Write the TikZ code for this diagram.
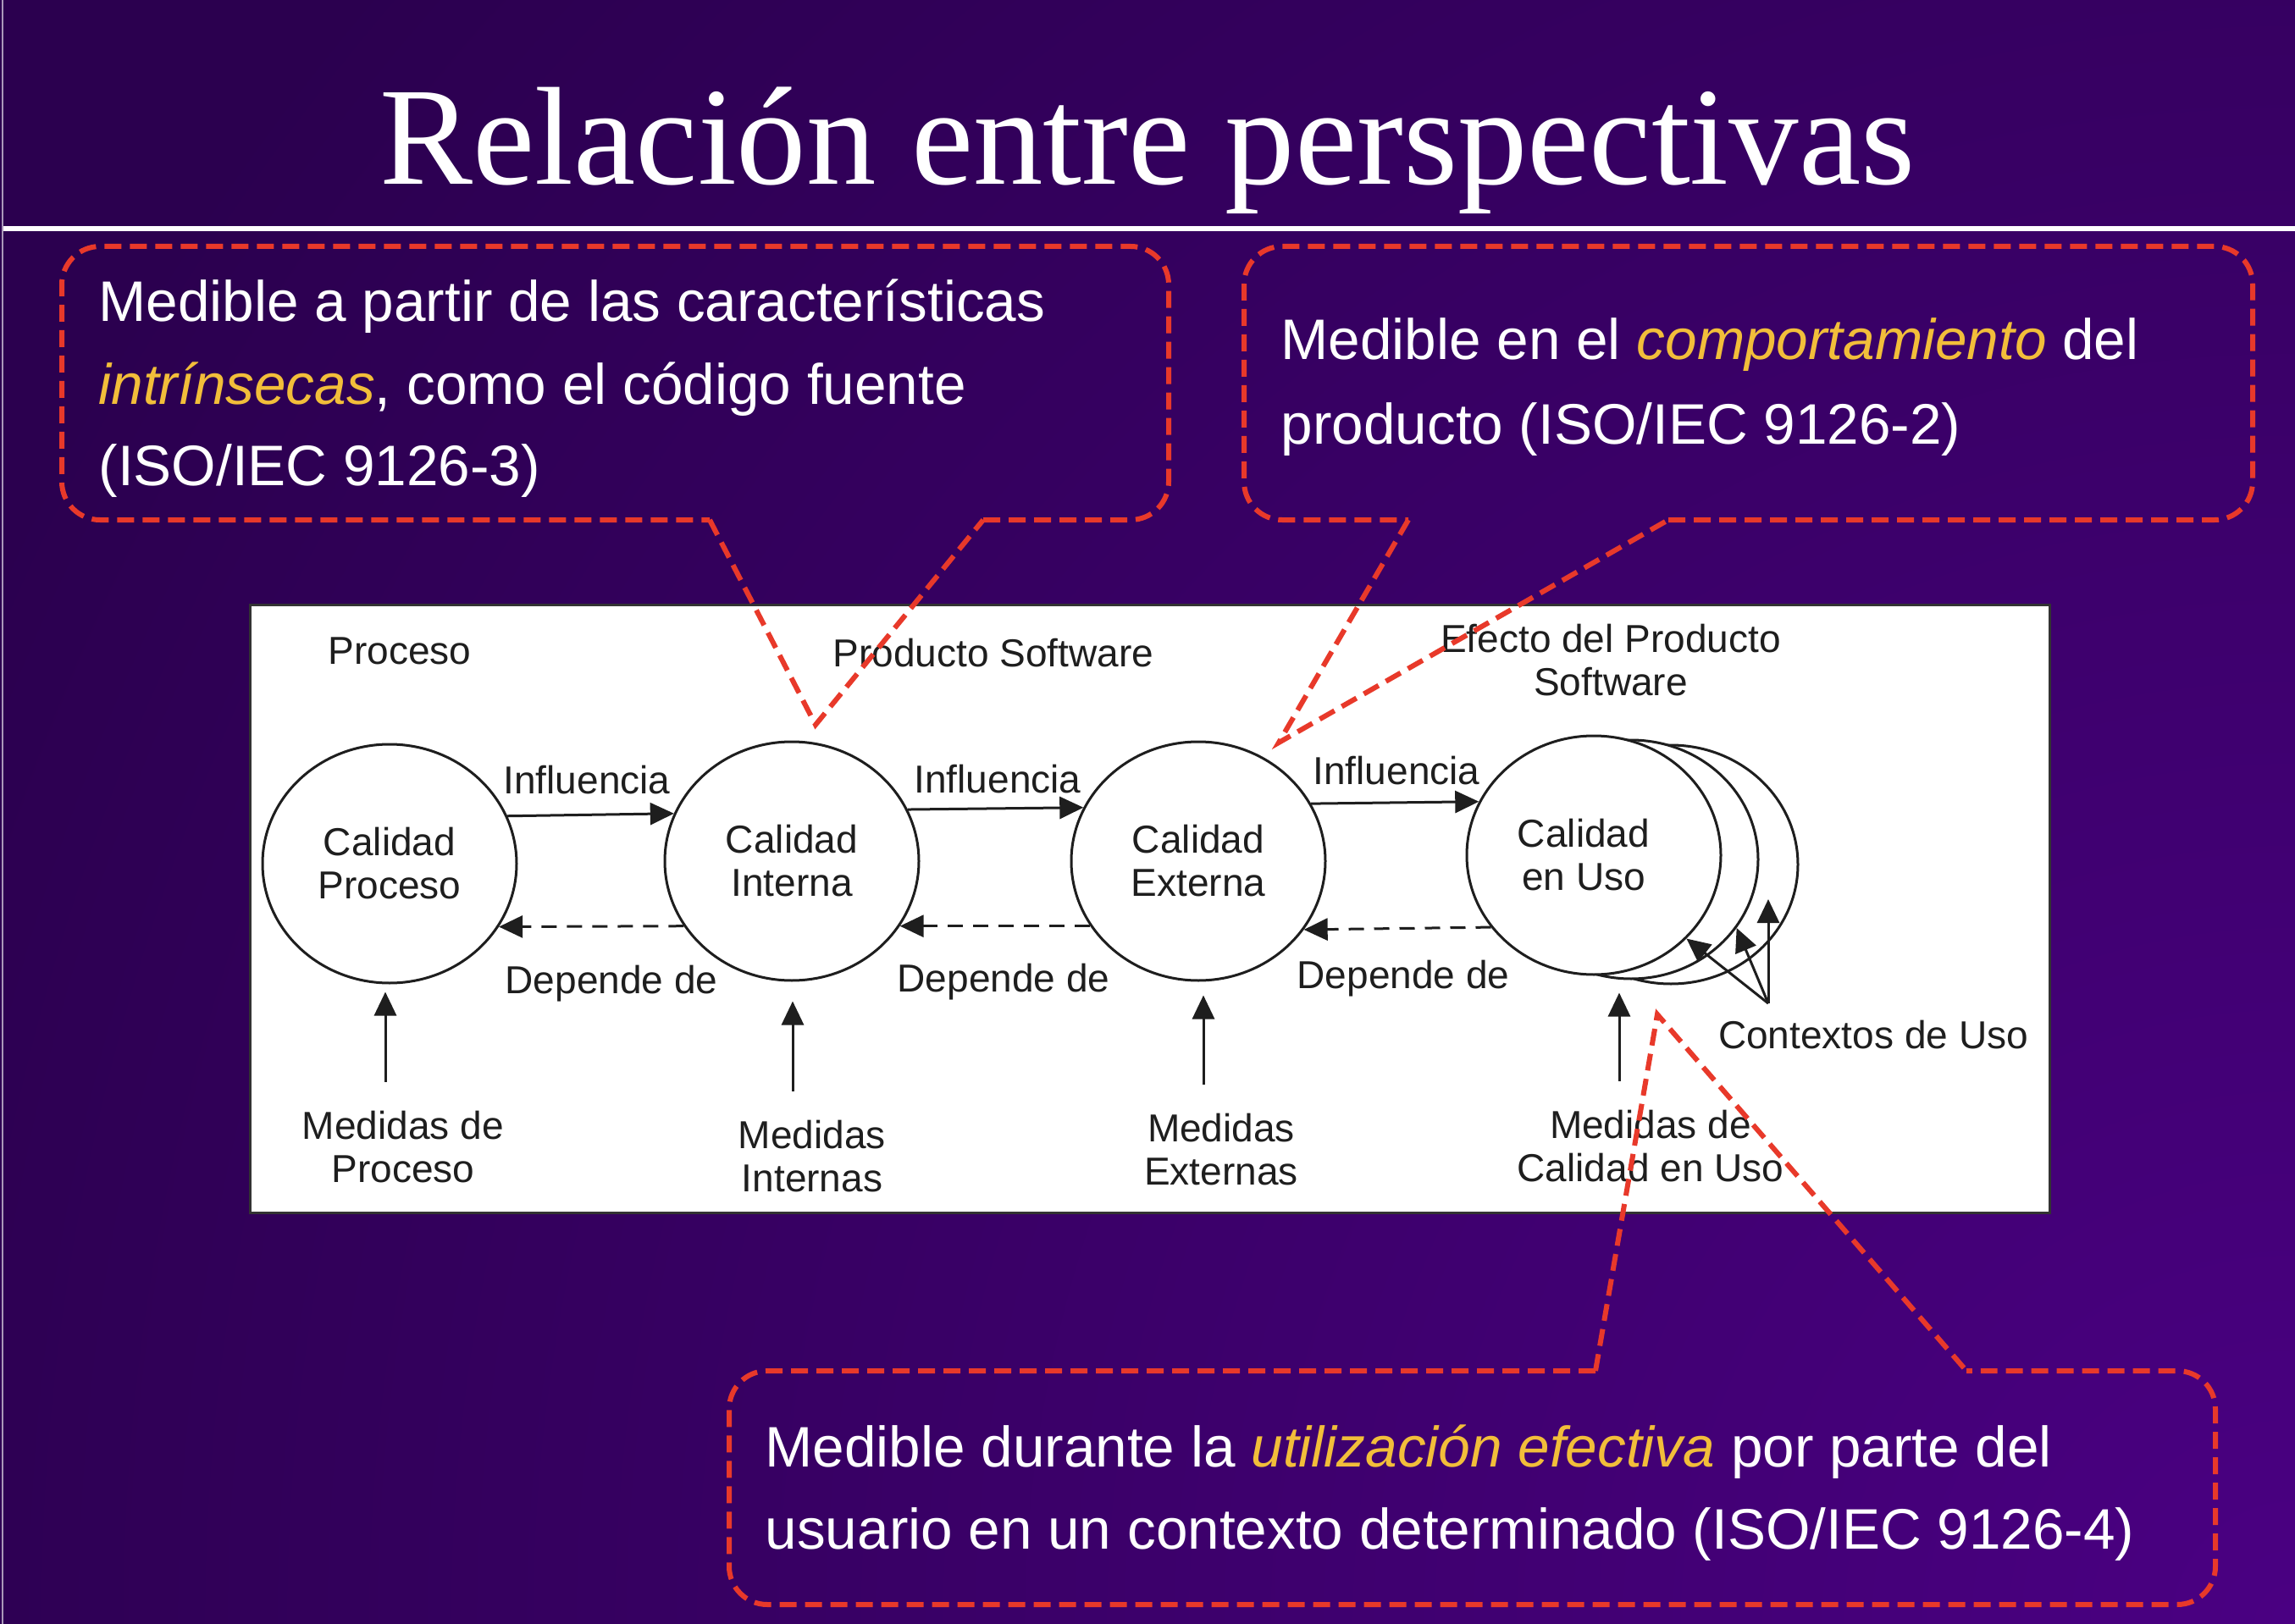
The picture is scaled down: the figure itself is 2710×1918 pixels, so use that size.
\documentclass[tikz,border=0pt]{standalone}
\usepackage{fontspec}
\setmainfont{Liberation Serif}
\newfontfamily\arialfont{Liberation Sans}
\usetikzlibrary{positioning,arrows.meta,shapes.geometric,calc}
\definecolor{BgDark}{HTML}{2B004F}
\definecolor{BgLight}{HTML}{4A0082}
\definecolor{CalloutRed}{HTML}{E8392A}
\definecolor{HiYellow}{HTML}{F2BE3A}
\definecolor{DiagInk}{HTML}{1E1E1E}
\newcommand\titlefont{\fontsize{46.9}{52}\selectfont}
\newcommand\calloutfont{\arialfont\fontsize{19.2}{27.6}\selectfont}
\newcommand\diagfont{\arialfont\fontsize{13.1}{14.5}\selectfont}
\newcommand\hili[1]{\textcolor{HiYellow}{\itshape #1}}

\begin{document}
\begin{tikzpicture}[x=0.1mm,y=-0.1mm,
      qual/.style={ellipse,draw=DiagInk,line width=0.3mm,fill=white,
                   minimum width=30mm,minimum height=28.2mm,inner sep=0pt,
                   align=center,font=\diagfont,text=DiagInk},
      lbl/.style={font=\diagfont,text=DiagInk,align=center,inner sep=0pt},
      infl/.style={-{Triangle[length=2.8mm,width=2.6mm]},DiagInk,line width=0.3mm},
      dep/.style={infl,dash pattern=on 1.8mm off 1.2mm},
      callout/.style={draw=CalloutRed,line width=0.6mm,dash pattern=on 2mm off 1mm},
      ctext/.style={anchor=base west,text=white,font=\calloutfont,inner sep=0pt}]
    \useasboundingbox (0,0) rectangle (2710,1918);
    \fill[BgDark] (0,0) rectangle (2710,1918);
    \begin{scope}
      \clip (0,0) rectangle (2710,1918);
      \shade[inner color=BgLight,outer color=BgDark] (2710,1918) circle (300mm);
    \end{scope}
    \draw[white!60!BgDark,line width=0.2mm] (3,0) -- (3,1918);
    \draw[white,line width=0.6mm] (4,270) -- (2710,270);

    \node[anchor=base,text=white,font=\titlefont] (title) at (1355,218) {Relación entre perspectivas};

    \draw[draw=black!80,fill=white,line width=0.3mm] (295,714) rectangle (2420,1432);

    \node[qual] (proc) at (460,1020) {Calidad\\Proceso};
    \node[qual] (int)  at (935,1017) {Calidad\\Interna};
    \node[qual] (ext)  at (1415,1017) {Calidad\\Externa};
    \node[qual] (uso3) at (1973,1021) {};
    \node[qual] (uso2) at (1926,1015) {};
    \node[qual] (uso)  at (1882,1010) {Calidad\hspace*{2.4mm}\\en Uso\hspace*{2.4mm}};

    \node[lbl] (lproc) at (472,769) {Proceso};
    \node[lbl] (lprod) at (1173,771) {Producto Software};
    \node[lbl] (lefec) at (1902,780) {Efecto del Producto\\Software};
    \node[lbl] (i1) at (693,921) {Influencia};
    \node[lbl] (i2) at (1178,920) {Influencia};
    \node[lbl] (i3) at (1649,910) {Influencia};
    \node[lbl] (d1) at (722,1162) {Depende de};
    \node[lbl] (d2) at (1185,1160) {Depende de};
    \node[lbl] (d3) at (1657,1156) {Depende de};
    \node[lbl] (m1) at (476,1355) {Medidas de\\Proceso};
    \node[lbl] (m2) at (959,1366) {Medidas\\Internas};
    \node[lbl] (m3) at (1442,1358) {Medidas\\Externas};
    \node[lbl] (m4) at (1949,1354) {Medidas de\\Calidad en Uso};
    \node[lbl] (lctx) at (2212,1222) {Contextos de Uso};

    \draw[infl] (proc.22.6) -- (int.158.7);
    \draw[infl] (int.24.3) -- (ext.155.7);
    \draw[infl] (ext.27.8) -- (uso.155.3);
    \draw[dep] (int.211) -- (proc.330.4);
    \draw[dep] (ext.211) -- (int.329);
    \draw[dep] (uso.215.9) -- (ext.327.5);

    \draw[infl] ($(m1.north)+(-21,-34)$) -- ($(proc.south)+(-5,9)$);
    \draw[infl] ($(m2.north)+(-23,-34)$) -- ($(int.south)+(1,23)$);
    \draw[infl] ($(m3.north)+(-21,-34)$) -- ($(ext.south)+(6,16)$);
    \draw[infl] ($(m4.north)+(-37,-34)$) -- ($(uso.south)+(30,20)$);

    \coordinate (ctx) at (2088,1185);
    \coordinate (ctxtip) at (2088,1062);
    \draw[infl] (ctx) -- (uso.-42.2);
    \draw[infl] (ctx) -- (uso2.-33.7);
    \draw[infl] (ctx) -- (ctxtip);

    \draw[callout,rounded corners=4.5mm] (1161,614) -- (1380,614) -- (1380,291) -- (73,291) -- (73,614) -- (838,614);
    \draw[callout] (838,614) -- (963,856) -- (1161,614);
    \node[ctext] (t1a) at (116,380) {Medible a partir de las características};
    \node[ctext] (t1b) at (116,477) {\hili{intrínsecas}, como el código fuente};
    \node[ctext] (t1c) at (116,573) {(ISO/IEC 9126-3)};

    \draw[callout,rounded corners=4.5mm] (1970,614) -- (2660,614) -- (2660,291) -- (1469,291) -- (1469,614) -- (1663,614);
    \draw[callout] (1663,614) -- (1510,877) -- (1970,614);
    \node[ctext] (t2a) at (1512,425) {Medible en el \hili{comportamiento} del};
    \node[ctext] (t2b) at (1512,525) {producto (ISO/IEC 9126-2)};

    \draw[callout,rounded corners=4.5mm] (1884,1619) -- (861,1619) -- (861,1895) -- (2616,1895) -- (2616,1619) -- (2322,1619);
    \draw[callout] (1884,1619) -- (1957,1198) -- (2322,1619);
    \node[ctext] (t3a) at (903,1732) {Medible durante la \hili{utilización efectiva} por parte del};
    \node[ctext] (t3b) at (903,1829) {usuario en un contexto determinado (ISO/IEC 9126-4)};
  \end{tikzpicture}
\end{document}
